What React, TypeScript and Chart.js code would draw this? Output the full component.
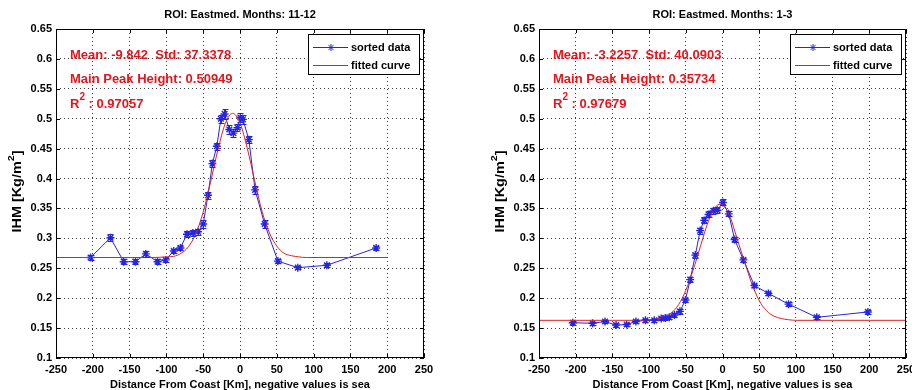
import React, { useEffect, useRef } from "react";
import { Chart, registerables } from "chart.js";
Chart.register(...registerables);

const FONT = '"Liberation Sans", Arial, Helvetica, sans-serif';
const BLUE = "#2424e6";
const RED = "#dd2222";
const TEXT_RED = "#e4151d";

const X_MIN = -250;
const X_MAX = 250;
const X_STEP = 50;
const Y_MIN = 0.1;
const Y_MAX = 0.65;
const Y_STEP = 0.05;

// ---- Left panel: Months 11-12 ----
const leftTitle = "ROI: Eastmed. Months: 11-12";
const leftStats = ["Mean: -9.842  Std: 37.3378", "Main Peak Height: 0.50949", "0.97057"];
const leftX = [-203, -176, -158, -142, -128, -112, -101, -90, -81, -72, -64, -57, -50, -43.5, -37.5, -31.5, -26, -21, -14.5, -9, -3.5, 0.5, 4, 12, 20.5, 33.5, 51.5, 78.5, 118, 185];
const leftY = [0.268, 0.301, 0.261, 0.261, 0.274, 0.261, 0.264, 0.279, 0.284, 0.307, 0.309, 0.311, 0.324, 0.372, 0.425, 0.454, 0.5, 0.508, 0.482, 0.476, 0.485, 0.502, 0.499, 0.465, 0.381, 0.324, 0.262, 0.251, 0.255, 0.284];
const leftErr = [0.004, 0.006, 0.004, 0.004, 0.005, 0.004, 0.004, 0.004, 0.004, 0.005, 0.005, 0.005, 0.006, 0.006, 0.006, 0.006, 0.007, 0.008, 0.007, 0.006, 0.006, 0.007, 0.007, 0.006, 0.006, 0.006, 0.004, 0.003, 0.003, 0.004];
const leftCurveX = [-250, -200, -150, -120, -100, -90, -80, -70, -60, -50, -40, -30, -20, -10, 0, 10, 20, 30, 40, 50, 60, 70, 80, 90, 100, 150, 200];
const leftCurveY = [0.268, 0.268, 0.268, 0.268, 0.269, 0.27, 0.275, 0.286, 0.308, 0.344, 0.394, 0.448, 0.492, 0.509, 0.493, 0.45, 0.396, 0.345, 0.309, 0.287, 0.275, 0.271, 0.269, 0.268, 0.268, 0.268, 0.268];

// ---- Right panel: Months 1-3 ----
const rightTitle = "ROI: Eastmed. Months: 1-3";
const rightStats = ["Mean: -3.2257  Std: 40.0903", "Main Peak Height: 0.35734", "0.97679"];
const rightX = [-204, -177, -160, -145, -130.5, -118, -105, -93, -83.5, -78, -72.5, -65.5, -58, -50.5, -44, -37, -30.5, -25, -19, -12.5, -7, 0.5, 8.5, 16.5, 28.5, 43.5, 62.5, 90, 128.5, 198];
const rightY = [0.159, 0.158, 0.161, 0.155, 0.156, 0.161, 0.163, 0.163, 0.166, 0.167, 0.168, 0.172, 0.178, 0.197, 0.231, 0.272, 0.313, 0.33, 0.34, 0.346, 0.347, 0.36, 0.341, 0.298, 0.264, 0.221, 0.208, 0.19, 0.168, 0.177];
const rightErr = [0.003, 0.003, 0.003, 0.003, 0.003, 0.003, 0.003, 0.003, 0.003, 0.003, 0.003, 0.003, 0.004, 0.004, 0.004, 0.004, 0.005, 0.005, 0.005, 0.005, 0.005, 0.005, 0.004, 0.004, 0.004, 0.003, 0.003, 0.003, 0.003, 0.003];
const rightCurveX = [-250, -200, -150, -120, -100, -90, -80, -70, -60, -50, -40, -30, -20, -10, -3, 0, 10, 20, 30, 40, 50, 60, 70, 80, 90, 100, 150, 200, 250];
const rightCurveY = [0.163, 0.163, 0.163, 0.163, 0.164, 0.165, 0.168, 0.175, 0.189, 0.213, 0.247, 0.287, 0.326, 0.352, 0.357, 0.356, 0.337, 0.299, 0.261, 0.224, 0.196, 0.179, 0.17, 0.166, 0.164, 0.163, 0.163, 0.163, 0.163];

type Panel = {
  title: string;
  stats: string[];
  x: number[];
  y: number[];
  err: number[];
  cx: number[];
  cy: number[];
  offset: number;
  padL: number;
  padR: number;
};

const panels: Panel[] = [
  { title: leftTitle, stats: leftStats, x: leftX, y: leftY, err: leftErr, cx: leftCurveX, cy: leftCurveY, offset: 0, padL: 0, padR: 32 },
  { title: rightTitle, stats: rightStats, x: rightX, y: rightY, err: rightErr, cx: rightCurveX, cy: rightCurveY, offset: 456, padL: 27, padR: 6 },
];

function makeDeco(p: Panel) {
  return {
    id: "deco",
    afterDatasetsDraw(chart: any) {
      const ctx = chart.ctx;
      const xs = chart.scales.x;
      const ys = chart.scales.y;
      ctx.save();
      ctx.strokeStyle = BLUE;
      ctx.lineWidth = 1;
      p.x.forEach((xv, i) => {
        const px = Math.round(xs.getPixelForValue(xv)) + 0.5;
        const y1 = Math.round(ys.getPixelForValue(p.y[i] - p.err[i])) + 0.5;
        const y2 = Math.round(ys.getPixelForValue(p.y[i] + p.err[i])) + 0.5;
        ctx.beginPath();
        ctx.moveTo(px, y1);
        ctx.lineTo(px, y2);
        ctx.moveTo(px - 3, y1);
        ctx.lineTo(px + 3, y1);
        ctx.moveTo(px - 3, y2);
        ctx.lineTo(px + 3, y2);
        ctx.stroke();
      });
      ctx.restore();
    },
    afterDraw(chart: any) {
      const ctx = chart.ctx;
      const a = chart.chartArea;
      const xs = chart.scales.x;
      const ys = chart.scales.y;
      ctx.save();
      // axes box
      ctx.strokeStyle = "#000";
      ctx.lineWidth = 1;
      ctx.strokeRect(a.left + 0.5, a.top + 0.5, a.right - a.left - 1, a.bottom - a.top - 1);
      // inward tick marks
      ctx.beginPath();
      xs.ticks.forEach((t: any) => {
        const px = Math.round(xs.getPixelForValue(t.value)) + 0.5;
        ctx.moveTo(px, a.bottom);
        ctx.lineTo(px, a.bottom - 4);
        ctx.moveTo(px, a.top);
        ctx.lineTo(px, a.top + 4);
      });
      ys.ticks.forEach((t: any) => {
        const py = Math.round(ys.getPixelForValue(t.value)) + 0.5;
        ctx.moveTo(a.left, py);
        ctx.lineTo(a.left + 4, py);
        ctx.moveTo(a.right, py);
        ctx.lineTo(a.right - 4, py);
      });
      ctx.stroke();

      const cx = (a.left + a.right) / 2;
      // title
      ctx.fillStyle = "#000";
      ctx.font = `bold 11px ${FONT}`;
      ctx.textAlign = "center";
      ctx.textBaseline = "middle";
      ctx.fillText(p.title, cx, 15);
      // x title
      ctx.fillText("Distance From Coast [Km], negative values is sea", cx, 385);
      // y title rotated (slightly stretched along its length like the reference)
      ctx.save();
      ctx.translate(a.left - 38, (a.top + a.bottom) / 2 - 2);
      ctx.rotate(-Math.PI / 2);
      ctx.scale(1.2, 1);
      ctx.textAlign = "left";
      const s1 = "IHM [Kg/m";
      ctx.font = `bold 12px ${FONT}`;
      const w1 = ctx.measureText(s1).width;
      ctx.font = `bold 9px ${FONT}`;
      const w2 = ctx.measureText("2").width;
      ctx.font = `bold 12px ${FONT}`;
      const w3 = ctx.measureText("]").width;
      const tot = w1 + w2 + w3;
      let sx = -tot / 2;
      ctx.fillText(s1, sx, 0);
      sx += w1;
      ctx.font = `bold 9px ${FONT}`;
      ctx.fillText("2", sx, -6);
      sx += w2;
      ctx.font = `bold 12px ${FONT}`;
      ctx.fillText("]", sx, 0);
      ctx.restore();

      // stats text
      ctx.fillStyle = TEXT_RED;
      ctx.textAlign = "left";
      ctx.textBaseline = "middle";
      ctx.font = `bold 13px ${FONT}`;
      const tx = a.left + 14;
      ctx.fillText(p.stats[0], tx, a.top + 26);
      ctx.fillText(p.stats[1], tx, a.top + 50);
      const ry = a.top + 75;
      ctx.fillText("R", tx, ry);
      let rx = tx + ctx.measureText("R").width;
      ctx.font = `bold 10px ${FONT}`;
      ctx.fillText("2", rx, ry - 7);
      rx += ctx.measureText("2").width;
      ctx.font = `bold 13px ${FONT}`;
      ctx.fillText(" : " + p.stats[2], rx, ry);

      // legend
      const bw = 111;
      const bh = 40;
      const bx = Math.round(a.right) - 5 - bw;
      const by = Math.round(a.top) + 5;
      ctx.fillStyle = "#fff";
      ctx.fillRect(bx, by, bw, bh);
      ctx.strokeStyle = "#000";
      ctx.strokeRect(bx + 0.5, by + 0.5, bw, bh);
      const l1 = by + 13.5;
      const l2 = by + 31.5;
      ctx.strokeStyle = BLUE;
      ctx.beginPath();
      ctx.moveTo(bx + 5, l1);
      ctx.lineTo(bx + 40, l1);
      ctx.stroke();
      // star marker
      const mx = bx + 23;
      ctx.beginPath();
      const r = 3.5;
      for (let k = 0; k < 4; k++) {
        const ang = (k * Math.PI) / 4;
        ctx.moveTo(mx + r * Math.cos(ang), l1 + r * Math.sin(ang));
        ctx.lineTo(mx - r * Math.cos(ang), l1 - r * Math.sin(ang));
      }
      ctx.stroke();
      ctx.strokeStyle = RED;
      ctx.beginPath();
      ctx.moveTo(bx + 5, l2);
      ctx.lineTo(bx + 40, l2);
      ctx.stroke();
      ctx.fillStyle = "#000";
      ctx.font = `bold 11px ${FONT}`;
      ctx.fillText("sorted data", bx + 43, l1);
      ctx.fillText("fitted curve", bx + 43, l2);
      ctx.restore();
    },
  };
}

function PanelChart({ p }: { p: Panel }) {
  const ref = useRef<HTMLCanvasElement>(null);
  useEffect(() => {
    if (!ref.current) return;
    const tickFont = { family: FONT, size: 11, weight: "bold" as const };
    const chart = new Chart(ref.current, {
      type: "line",
      data: {
        datasets: [
          {
            label: "fitted curve",
            data: p.cx.map((x, i) => ({ x, y: p.cy[i] })),
            borderColor: RED,
            borderWidth: 1,
            pointRadius: 0,
            cubicInterpolationMode: "monotone",
            fill: false,
            order: 0,
          },
          {
            label: "sorted data",
            data: p.x.map((x, i) => ({ x, y: p.y[i] })),
            borderColor: BLUE,
            backgroundColor: BLUE,
            borderWidth: 1,
            pointStyle: "star",
            pointRadius: 4,
            pointBorderColor: BLUE,
            pointBorderWidth: 1.4,
            tension: 0,
            fill: false,
            order: 1,
          },
        ],
      },
      options: {
        responsive: false,
        animation: false,
        devicePixelRatio: 1,
        layout: { padding: { left: p.padL, right: p.padR, top: 29, bottom: 0 } },
        plugins: {
          legend: { display: false },
          tooltip: { enabled: false },
          title: { display: false },
        },
        scales: {
          x: {
            type: "linear",
            min: X_MIN,
            max: X_MAX,
            ticks: {
              stepSize: X_STEP,
              color: "#000",
              font: tickFont,
              padding: 5,
              autoSkip: false,
              maxRotation: 0,
            },
            grid: { color: "#3a3a3a", drawTicks: false, lineWidth: 1 },
            border: { display: false, dash: [1, 3] },
            afterFit(s: any) {
              s.height = 32;
              s.paddingLeft = 0;
              s.paddingRight = 0;
            },
          },
          y: {
            type: "linear",
            min: Y_MIN,
            max: Y_MAX,
            ticks: {
              stepSize: Y_STEP,
              color: "#000",
              font: tickFont,
              padding: 4,
              autoSkip: false,
              callback: (v: any) => String(+Number(v).toFixed(2)),
            },
            grid: { color: "#3a3a3a", drawTicks: false, lineWidth: 1 },
            border: { display: false, dash: [1, 3] },
            afterFit(s: any) {
              s.width = 56;
              s.paddingTop = 0;
              s.paddingBottom = 0;
            },
          },
        },
      } as any,
      plugins: [makeDeco(p)],
    });
    return () => chart.destroy();
  }, [p]);
  return (
    <canvas
      ref={ref}
      width={456}
      height={390}
      style={{ position: "absolute", left: p.offset, top: 0, width: 456, height: 390, display: "block" }}
    />
  );
}

export default function App() {
  return (
    <div style={{ position: "fixed", left: 0, top: 0, width: 912, height: 390, background: "#fff", overflow: "hidden" }}>
      {panels.map((p, i) => (
        <PanelChart key={i} p={p} />
      ))}
    </div>
  );
}
